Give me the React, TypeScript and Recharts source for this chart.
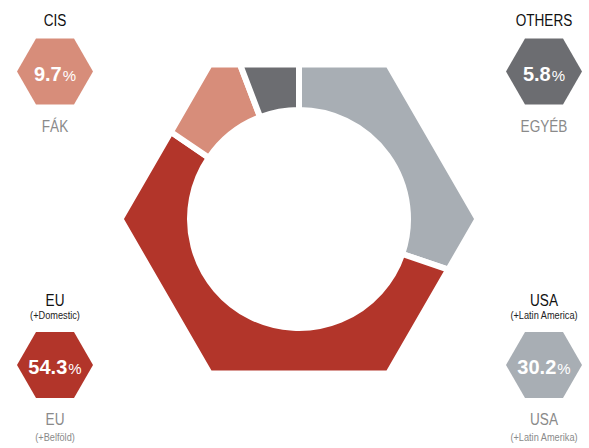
import React from "react";
import { PieChart, Pie, Cell } from "recharts";

const regions = ["USA", "EU", "CIS", "OTHERS"];
const shares = [30.2, 54.3, 9.7, 5.8];
const regionNotes = ["(+Latin America)", "(+Domestic)", "", ""];
const localNames = ["USA", "EU", "FÁK", "EGYÉB"];
const localNotes = ["(+Latin Amerika)", "(+Belföld)", "", ""];
const colors = ["#a8aeb4", "#b2352a", "#d78d7a", "#6c6d71"];

// badge centres, same order as regions
const badgePos = [
	[544, 365],
	[55, 365],
	[55, 71.5],
	[544, 71.5],
];

const data = regions.map((name, i) => ({ name, value: shares[i] }));

const RAD = Math.PI / 180;
const SANS = "'Liberation Sans', Arial, sans-serif";

// sector whose outer edge follows a flat-top hexagon
function HexSector(props: any) {
	const { cx, cy, innerRadius, outerRadius, startAngle, endAngle, fill } = props;
	const hexR = (a: number) => {
		const m = ((a % 60) + 60) % 60;
		return (outerRadius * Math.cos(30 * RAD)) / Math.cos((m - 30) * RAD);
	};
	const pt = (r: number, a: number) =>
		`${cx + r * Math.cos(a * RAD)},${cy - r * Math.sin(a * RAD)}`;
	const lo = Math.min(startAngle, endAngle);
	const hi = Math.max(startAngle, endAngle);
	const verts: number[] = [];
	for (let k = Math.ceil(lo / 60) * 60; k < hi; k += 60) {
		if (k > lo) verts.push(k);
	}
	if (endAngle < startAngle) verts.reverse();
	const large = hi - lo > 180 ? 1 : 0;
	const sweep = endAngle < startAngle ? 0 : 1;
	let d = `M${pt(hexR(startAngle), startAngle)}`;
	verts.forEach((v) => {
		d += ` L${pt(outerRadius, v)}`;
	});
	d += ` L${pt(hexR(endAngle), endAngle)}`;
	d += ` L${pt(innerRadius, endAngle)}`;
	d += ` A${innerRadius},${innerRadius} 0 ${large} ${sweep} ${pt(innerRadius, startAngle)} Z`;
	return <path d={d} fill={fill} stroke="#fff" strokeWidth={6} strokeLinejoin="miter" />;
}

// no narrow font installed, so squeeze the regular one
function Narrow({ x, y, size, fill, children }: any) {
	return (
		<text
			transform={`translate(${x},${y}) scale(0.8,1)`}
			textAnchor="middle"
			fontFamily={SANS}
			fontSize={size}
			fill={fill}
		>
			{children}
		</text>
	);
}

function Badge({ i }: { i: number }) {
	const [bx, by] = badgePos[i];
	const R = 38;
	const pts = [0, 60, 120, 180, 240, 300]
		.map((a) => `${bx + R * Math.cos(a * RAD)},${by - R * Math.sin(a * RAD)}`)
		.join(" ");
	const hasNote = regionNotes[i] !== "";
	const titleY = hasNote ? by - 59 : by - 45.5;
	return (
		<g>
			<Narrow x={bx} y={titleY} size={17} fill="#111">
				{regions[i]}
			</Narrow>
			{hasNote && (
				<Narrow x={bx} y={by - 46} size={11.5} fill="#222">
					{regionNotes[i]}
				</Narrow>
			)}
			<polygon points={pts} fill={colors[i]} />
			<text x={bx} y={by + 9} textAnchor="middle" fontFamily={SANS} fill="#fff">
				<tspan fontSize={20} fontWeight="bold">
					{shares[i].toFixed(1)}
				</tspan>
				<tspan fontSize={15} dx={1}>
					%
				</tspan>
			</text>
			<Narrow x={bx} y={by + 60} size={17} fill="#8a8a8a">
				{localNames[i]}
			</Narrow>
			{localNotes[i] !== "" && (
				<Narrow x={bx} y={by + 76} size={11.5} fill="#8a8a8a">
					{localNotes[i]}
				</Narrow>
			)}
		</g>
	);
}

export default function App() {
	return (
		<div style={{ position: "absolute", left: 0, top: 0, width: 589, height: 448, background: "#fff" }}>
			<PieChart width={589} height={448} margin={{ top: 0, right: 0, bottom: 0, left: 0 }}>
				<Pie
					data={data}
					dataKey="value"
					nameKey="name"
					cx={299}
					cy={219}
					innerRadius={109}
					outerRadius={178.5}
					startAngle={90}
					endAngle={-270}
					stroke="#fff"
					strokeWidth={6}
					shape={HexSector}
					isAnimationActive={false}
				>
					{data.map((d, i) => (
						<Cell key={d.name} fill={colors[i]} />
					))}
				</Pie>
			</PieChart>
			<svg width={589} height={448} style={{ position: "absolute", left: 0, top: 0, pointerEvents: "none" }}>
				{regions.map((r, i) => (
					<Badge key={r} i={i} />
				))}
			</svg>
		</div>
	);
}
